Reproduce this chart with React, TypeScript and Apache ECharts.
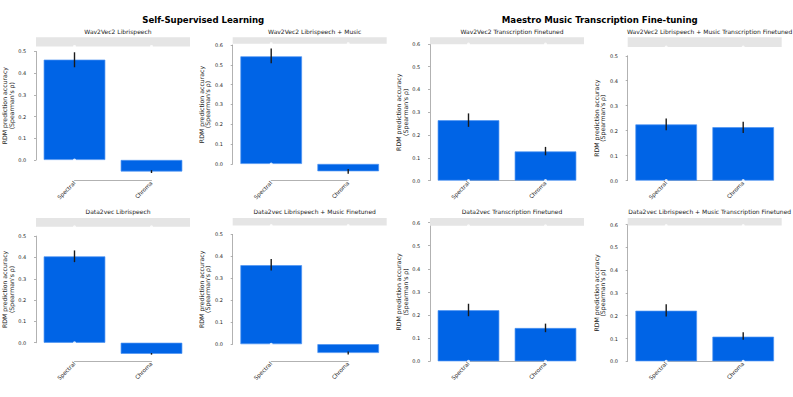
import React, { useEffect, useRef } from "react";
import * as echarts from "echarts";

const categories = ["Spectral", "Chroma"];
const groupTitles = ["Self-Supervised Learning", "Maestro Music Transcription Fine-tuning"];
const panelTitles = [
  "Wav2Vec2 Librispeech",
  "Wav2Vec2 Librispeech + Music",
  "Wav2Vec2 Transcription Finetuned",
  "Wav2Vec2 Librispeech + Music Transcription Finetuned",
  "Data2vec Librispeech",
  "Data2vec Librispeech + Music Finetuned",
  "Data2vec Transcription Finetuned",
  "Data2vec Librispeech + Music Transcription Finetuned",
];
// mean RDM prediction accuracy per panel: [Spectral, Chroma]
const meanValues = [
  [0.462, -0.053],
  [0.543, -0.037],
  [0.265, 0.128],
  [0.225, 0.214],
  [0.405, -0.052],
  [0.36, -0.04],
  [0.221, 0.144],
  [0.222, 0.108],
];
const ciLower = [
  [0.427, -0.06],
  [0.508, -0.049],
  [0.236, 0.111],
  [0.202, 0.191],
  [0.378, -0.056],
  [0.336, -0.047],
  [0.195, 0.126],
  [0.197, 0.095],
];
const ciUpper = [
  [0.496, -0.047],
  [0.583, -0.025],
  [0.295, 0.148],
  [0.249, 0.236],
  [0.433, -0.048],
  [0.388, -0.033],
  [0.249, 0.163],
  [0.25, 0.127],
];
const noiseCeilLower = [0.523, 0.607, 0.599, 0.535, 0.544, 0.541, 0.586, 0.596];
const noiseCeilUpper = [0.565, 0.639, 0.629, 0.574, 0.585, 0.575, 0.62, 0.629];
const yTickMax = [0.5, 0.6, 0.6, 0.5, 0.5, 0.5, 0.6, 0.6];
const yAxisMin = [-0.095, -0.084, 0, 0, -0.087, -0.078, 0, 0];
const yTickStep = 0.1;
const yAxisName = "RDM prediction accuracy\n(Spearman's ρ)";

// layout
const W = 793;
const H = 397;
const colLeft = [36, 232.7, 430, 627.7];
const colWidth = 154;
const rowTop = [37.3, 218];
const rowHeight = 143.3;
const axisOffset = 7.7;
const FONT = "DejaVu Sans";
const TEXT = "#222222";
const AXIS = "#9e9e9e";

function buildOption() {
  const grid: any[] = [];
  const xAxis: any[] = [];
  const yAxis: any[] = [];
  const series: any[] = [];
  const title: any[] = [
    {
      text: groupTitles[0],
      left: W / 4,
      top: 10.5,
      textAlign: "center",
      textStyle: { fontSize: 8.6, fontWeight: "bold", color: "#000", fontFamily: FONT },
    },
    {
      text: groupTitles[1],
      left: (3 * W) / 4,
      top: 10.5,
      textAlign: "center",
      textStyle: { fontSize: 8.6, fontWeight: "bold", color: "#000", fontFamily: FONT },
    },
  ];

  for (let p = 0; p < panelTitles.length; p++) {
    const col = p % 4;
    const row = Math.floor(p / 4);
    const left = colLeft[col];
    const top = rowTop[row];
    const ymin = yAxisMin[p];
    const ymax = noiseCeilUpper[p];
    const pxPerUnit = rowHeight / (ymax - ymin);

    title.push({
      text: panelTitles[p],
      left: left + colWidth / 2,
      top: top - 14.3,
      textAlign: "center",
      textStyle: { fontSize: 6.0, fontWeight: "normal", color: TEXT, fontFamily: FONT },
    });

    // main grid (bars, noise ceiling, error bars)
    const gMain = grid.length;
    grid.push({ left, top, width: colWidth, height: rowHeight });
    xAxis.push({ gridIndex: gMain, type: "category", data: categories, show: false });
    yAxis.push({ gridIndex: gMain, type: "value", min: ymin, max: ymax, show: false });

    // trimmed y axis grid (0 .. tick max)
    const gY = grid.length;
    grid.push({
      left,
      top: top + (ymax - yTickMax[p]) * pxPerUnit,
      width: colWidth,
      height: yTickMax[p] * pxPerUnit,
    });
    xAxis.push({ gridIndex: gY, type: "value", show: false });
    yAxis.push({
      gridIndex: gY,
      type: "value",
      min: 0,
      max: yTickMax[p],
      interval: yTickStep,
      offset: axisOffset,
      axisLine: { show: true, lineStyle: { color: AXIS, width: 0.8 } },
      axisTick: { show: true, length: 2, lineStyle: { color: AXIS, width: 0.8 } },
      axisLabel: {
        fontSize: 5,
        margin: 2,
        color: TEXT,
        fontFamily: FONT,
        formatter: (v: number) => v.toFixed(1),
      },
      splitLine: { show: false },
      name: yAxisName,
      nameLocation: "middle",
      nameGap: 9.5,
      nameTextStyle: { fontSize: 6.2, lineHeight: 6.6, color: TEXT, fontFamily: FONT },
    });

    // trimmed category axis grid (between first and last category)
    const gX = grid.length;
    const band = colWidth / categories.length;
    grid.push({ left: left + band / 2, top, width: colWidth - band, height: rowHeight });
    xAxis.push({
      gridIndex: gX,
      type: "category",
      data: categories,
      boundaryGap: false,
      axisLine: { show: true, lineStyle: { color: AXIS, width: 0.8 } },
      axisTick: { show: false },
      axisLabel: { rotate: 45, fontSize: 5.6, margin: 1.5, interval: 0, color: TEXT, fontFamily: FONT },
    });
    yAxis.push({ gridIndex: gX, type: "value", show: false });

    series.push({
      type: "bar",
      xAxisIndex: gMain,
      yAxisIndex: gMain,
      data: meanValues[p],
      barWidth: "80%",
      itemStyle: { color: "#0064E6", borderColor: "#4d94f2", borderWidth: 0.7 },
      markArea: {
        silent: true,
        itemStyle: { color: "#e5e5e5" },
        data: [[{ yAxis: noiseCeilLower[p] }, { yAxis: noiseCeilUpper[p] }]],
      },
      z: 2,
    });

    series.push({
      type: "custom",
      xAxisIndex: gMain,
      yAxisIndex: gMain,
      encode: { x: 0, y: [1, 2] },
      data: categories.map((_, i) => [i, ciLower[p][i], ciUpper[p][i]]),
      renderItem: (_params: any, api: any) => {
        const lo = api.coord([api.value(0), api.value(1)]);
        const hi = api.coord([api.value(0), api.value(2)]);
        return {
          type: "line",
          shape: { x1: lo[0], y1: lo[1], x2: hi[0], y2: hi[1] },
          style: { stroke: "#1a1a1a", lineWidth: 1.4 },
        };
      },
      z: 5,
    });

    const dots: number[][] = [];
    categories.forEach((_, i) => {
      if (meanValues[p][i] > 0) dots.push([i, 0]);
      dots.push([i, noiseCeilLower[p]]);
    });
    series.push({
      type: "scatter",
      xAxisIndex: gMain,
      yAxisIndex: gMain,
      data: dots,
      symbolSize: 3,
      itemStyle: { color: "#ffffff" },
      z: 6,
    });
  }

  return {
    animation: false,
    backgroundColor: "#ffffff",
    textStyle: { fontFamily: FONT },
    title,
    grid,
    xAxis,
    yAxis,
    series,
  };
}

export default function App() {
  const ref = useRef<HTMLDivElement>(null);
  useEffect(() => {
    if (!ref.current) return;
    const chart = echarts.init(ref.current, undefined, { renderer: "svg" });
    chart.setOption(buildOption() as any);
    return () => chart.dispose();
  }, []);
  return (
    <div
      ref={ref}
      style={{ position: "fixed", left: 0, top: 0, width: W, height: H, background: "#fff" }}
    />
  );
}
